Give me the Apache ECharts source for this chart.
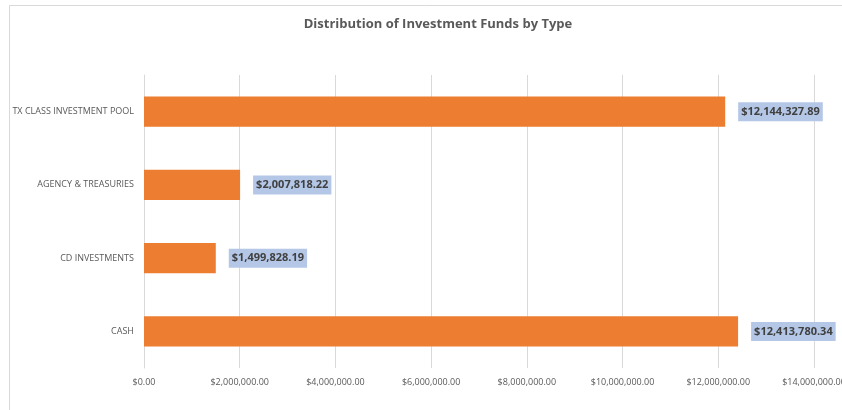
<!DOCTYPE html>
<html>
<head>
<meta charset="utf-8">
<script src="https://cdn.jsdelivr.net/npm/echarts@6/dist/echarts.min.js"></script>
<style>html,body{margin:0;padding:0;background:#fff}#c{width:842px;height:410px}</style>
</head>
<body>
<div id="c"></div>
<script>
const categories = ["CASH", "CD INVESTMENTS", "AGENCY & TREASURIES", "TX CLASS INVESTMENT POOL"];
const values = [12413780.34, 1499828.19, 2007818.22, 12144327.89];
const titleText = "Distribution of Investment Funds by Type";

function money(v) {
  return "$" + v.toLocaleString("en-US", {minimumFractionDigits: 2, maximumFractionDigits: 2});
}

const chart = echarts.init(document.getElementById("c"));
chart.setOption({
  animation: false,
  textStyle: {fontFamily: "Open Sans"},
  title: {
    text: titleText,
    left: 433, top: 13, textAlign: "center",
    textStyle: {fontSize: 13, fontWeight: "bold", color: "#595959", fontFamily: "Open Sans"}
  },
  graphic: [
    {type: "line", shape: {x1: 9.5, y1: 5.5, x2: 842, y2: 5.5}, style: {stroke: "#d9d9d9", lineWidth: 1}},
    {type: "line", shape: {x1: 9.5, y1: 5.5, x2: 9.5, y2: 410}, style: {stroke: "#d9d9d9", lineWidth: 1}}
  ],
  grid: {left: 144, right: 28, top: 75, bottom: 42, containLabel: false, outerBoundsMode: "none"},
  xAxis: {
    type: "value", min: 0, max: 14000000, interval: 2000000,
    axisLine: {show: false}, axisTick: {show: false},
    splitLine: {lineStyle: {color: "#d9d9d9", width: 1}},
    axisLabel: {formatter: v => money(v), fontSize: 9, color: "#595959", margin: 10}
  },
  yAxis: {
    type: "category", data: categories,
    axisLine: {lineStyle: {color: "#d9d9d9"}}, axisTick: {show: false},
    axisLabel: {fontSize: 9, color: "#595959", margin: 10}
  },
  series: [{
    type: "bar", data: values, barCategoryGap: "59%",
    itemStyle: {color: "#ED7D31"},
    label: {
      show: true, position: "right", distance: 13,
      formatter: p => money(p.value),
      fontSize: 11, fontWeight: "bold", color: "#404040",
      backgroundColor: "#B4C7E7", padding: [4, 3, 4, 3]
    }
  }]
});
</script>
</body>
</html>
